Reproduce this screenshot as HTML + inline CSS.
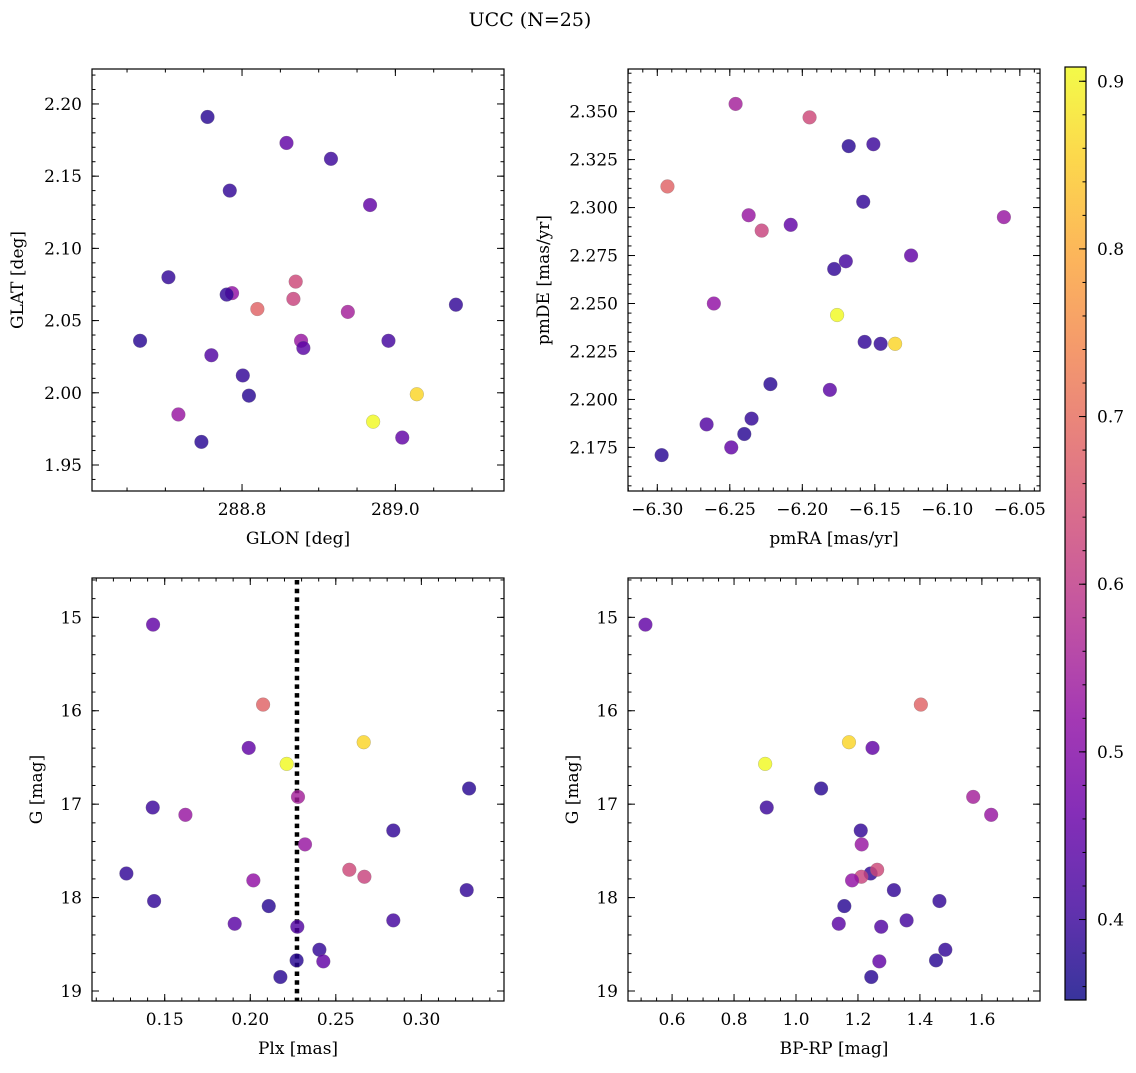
<!DOCTYPE html>
<html><head><meta charset="utf-8"><style>
html,body{margin:0;padding:0;background:#fff;}
svg text{font-family:"DejaVu Serif","Liberation Serif",serif;fill:#000;}
</style></head><body>
<svg id="fig" width="1136" height="1068" viewBox="0 0 1136 1068" xmlns="http://www.w3.org/2000/svg">
<text x="530" y="26" font-size="19" text-anchor="middle">UCC (N=25)</text>
</svg>
<script>
// Star data (A..Y)
const glon = [288.858,288.820,288.967,289.028,288.971,288.755,288.938,288.916,288.717,288.784,288.877,288.704,288.870,288.867,288.787,288.780,289.079,288.667,288.880,288.991,288.760,288.801,288.809,289.009,288.747];
const glat = [2.173,2.058,2.130,1.999,1.980,2.191,2.056,2.162,1.985,2.140,2.036,2.080,2.077,2.065,2.069,2.068,2.061,2.036,2.031,2.036,2.026,2.012,1.998,1.969,1.966];
const pmra = [-6.208,-6.293,-6.125,-6.136,-6.176,-6.168,-6.246,-6.151,-6.061,-6.158,-6.237,-6.178,-6.195,-6.228,-6.261,-6.157,-6.146,-6.222,-6.181,-6.170,-6.266,-6.235,-6.240,-6.249,-6.297];
const pmde = [2.291,2.311,2.275,2.229,2.244,2.332,2.354,2.333,2.295,2.303,2.296,2.268,2.347,2.288,2.250,2.230,2.229,2.208,2.205,2.272,2.187,2.190,2.182,2.175,2.171];
const plx = [0.1432,0.2075,0.1991,0.2663,0.2213,0.3279,0.2279,0.1430,0.1621,0.2836,0.2320,0.1276,0.2579,0.2667,0.2018,0.3265,0.1438,0.2108,0.1909,0.2836,0.2275,0.2404,0.2271,0.2427,0.2176];
const gmag = [15.078,15.934,16.398,16.337,16.569,16.832,16.922,17.036,17.114,17.282,17.431,17.742,17.702,17.777,17.816,17.920,18.037,18.091,18.280,18.244,18.312,18.558,18.672,18.683,18.850];
const bprp = [0.514,1.403,1.247,1.171,0.9005,1.081,1.572,0.9055,1.630,1.209,1.212,1.241,1.262,1.211,1.181,1.316,1.463,1.156,1.138,1.357,1.275,1.482,1.452,1.269,1.243];
const prob = [0.45,0.68,0.45,0.86,0.91,0.38,0.55,0.40,0.53,0.39,0.53,0.39,0.63,0.62,0.52,0.39,0.39,0.38,0.44,0.41,0.43,0.39,0.38,0.45,0.38];
const plxMedian = 0.2273;
const cbTicks = [0.4,0.5,0.6,0.7,0.8,0.9];
const VMIN = 0.352, VMAX = 0.9085;

const NS = "http://www.w3.org/2000/svg";
const svg = document.getElementById('fig');
function mk(tag, attrs, parent){const e=document.createElementNS(NS,tag);for(const k in attrs)e.setAttribute(k,attrs[k]);(parent||svg).appendChild(e);return e;}

const stops=[[13,8,135],[65,4,157],[106,0,168],[143,13,164],[177,42,144],[204,71,120],[225,100,98],[242,132,75],[252,166,54],[252,206,37],[240,249,33]];
function plasma(t){t=Math.max(0,Math.min(1,t));const f=t*10,i=Math.min(9,Math.floor(f)),r=f-i;const a=stops[i],b=stops[i+1];return 'rgb('+a.map((v,k)=>Math.round(v+(b[k]-v)*r)).join(',')+')';}

function fmt(v,d){const s=Math.abs(v).toFixed(d);return (v<-1e-9?'\u2212':'')+s;}

function panel(o){
  const g=mk('g',{});
  
  
  const sx=v=>o.x0+(v-o.xmin)/(o.xmax-o.xmin)*(o.x1-o.x0);
  const sy=v=>o.inv? o.y0+(v-o.ymin)/(o.ymax-o.ymin)*(o.y1-o.y0) : o.y1-(v-o.ymin)/(o.ymax-o.ymin)*(o.y1-o.y0);
  const tg=mk('g',{stroke:'#000','stroke-width':1},g);
  for(let v=o.xminor0; v<=o.xmax+1e-9; v+=o.xminorStep){const x=sx(v);if(x<o.x0||x>o.x1)continue;mk('line',{x1:x,x2:x,y1:o.y1,y2:o.y1-3.5},tg);mk('line',{x1:x,x2:x,y1:o.y0,y2:o.y0+3.5},tg);}
  for(let v=o.yminor0; v<=Math.max(o.ymax,o.ymin)+1e-9; v+=o.yminorStep){const y=sy(v);if(y<o.y0||y>o.y1)continue;mk('line',{x1:o.x0,x2:o.x0+3.5,y1:y,y2:y},tg);mk('line',{x1:o.x1,x2:o.x1-3.5,y1:y,y2:y},tg);}
  o.xticks.forEach(v=>{const x=sx(v);mk('line',{x1:x,x2:x,y1:o.y1,y2:o.y1-7},tg);mk('line',{x1:x,x2:x,y1:o.y0,y2:o.y0+7},tg);
    const t=mk('text',{x:x,y:o.y1+24,'font-size':17,'text-anchor':'middle'},g);t.textContent=fmt(v,o.xdec);
    
    });
  o.yticks.forEach(v=>{const y=sy(v);mk('line',{x1:o.x0,x2:o.x0+7,y1:y,y2:y},tg);mk('line',{x1:o.x1,x2:o.x1-7,y1:y,y2:y},tg);
    const t=mk('text',{x:o.x0-10,y:y+6,'font-size':17,'text-anchor':'end'},g);t.textContent=fmt(v,o.ydec);
    
    });
  if(o.vline!==undefined){const x=sx(o.vline);const l=mk('line',{x1:x,x2:x,y1:o.y0+2,y2:o.y1,stroke:'#000','stroke-width':4.5,'stroke-dasharray':'4.5 4.2'},g);
    
    }
  for(let i=0;i<o.xs.length;i++){
    const c=mk('circle',{cx:sx(o.xs[i]),cy:sy(o.ys[i]),r:6.9,fill:plasma((prob[i]-VMIN)/(VMAX-VMIN)),'fill-opacity':0.82,stroke:'#777','stroke-width':0.4,'stroke-opacity':0.6},g);
    
    
  }
  const fr=mk('rect',{x:o.x0,y:o.y0,width:o.x1-o.x0,height:o.y1-o.y0,fill:'none',stroke:'#000','stroke-width':1.2},g);
  
  
  const xl=mk('text',{x:(o.x0+o.x1)/2,y:o.y1+53,'font-size':17,'text-anchor':'middle'},g);xl.textContent=o.xlabel;
  
  
  const yl=mk('text',{x:0,y:0,'font-size':17,'text-anchor':'middle',transform:'translate('+o.ylx+','+((o.y0+o.y1)/2)+') rotate(-90)'},g);yl.textContent=o.ylabel;
  
  
}

panel({name:'glon-glat-panel',x0:92,x1:504,y0:69,y1:491,xmin:288.6043,xmax:289.1417,ymin:1.932,ymax:2.2242,
  xticks:[288.8,289.0],xdec:1,xminor0:288.65,xminorStep:0.05,yticks:[1.95,2.00,2.05,2.10,2.15,2.20],ydec:2,yminor0:1.94,yminorStep:0.01,
  xs:glon,ys:glat,xlabel:'GLON [deg]',ylabel:'GLAT [deg]',ylx:23});
panel({name:'pm-panel',x0:628,x1:1040,y0:69,y1:491,xmin:-6.3202,xmax:-6.0361,ymin:2.1523,ymax:2.3722,
  xticks:[-6.30,-6.25,-6.20,-6.15,-6.10,-6.05],xdec:2,xminor0:-6.32,xminorStep:0.01,yticks:[2.175,2.2,2.225,2.25,2.275,2.3,2.325,2.35],ydec:3,yminor0:2.155,yminorStep:0.005,
  xs:pmra,ys:pmde,xlabel:'pmRA [mas/yr]',ylabel:'pmDE [mas/yr]',ylx:549});
panel({name:'plx-g-panel',x0:92,x1:504,y0:578,y1:1001,xmin:0.1075,xmax:0.3483,ymin:14.579,ymax:19.107,inv:true,
  xticks:[0.15,0.20,0.25,0.30],xdec:2,xminor0:0.11,xminorStep:0.01,yticks:[15,16,17,18,19],ydec:0,yminor0:14.6,yminorStep:0.2,
  xs:plx,ys:gmag,xlabel:'Plx [mas]',ylabel:'G [mag]',ylx:42,vline:plxMedian});
panel({name:'cmd-panel',x0:628,x1:1040,y0:578,y1:1001,xmin:0.4577,xmax:1.7876,ymin:14.579,ymax:19.107,inv:true,
  xticks:[0.6,0.8,1.0,1.2,1.4,1.6],xdec:1,xminor0:0.5,xminorStep:0.05,yticks:[15,16,17,18,19],ydec:0,yminor0:14.6,yminorStep:0.2,
  xs:bprp,ys:gmag,xlabel:'BP-RP [mag]',ylabel:'G [mag]',ylx:578});

const cb=mk('g',{});


const defs=mk('defs',{},cb);
const lg=mk('linearGradient',{id:'cbg',x1:0,y1:1,x2:0,y2:0},defs);
for(let k=0;k<=20;k++){const t=k/20;const v=VMIN+t*(VMAX-VMIN);mk('stop',{offset:t,'stop-color':plasma((v-VMIN)/(VMAX-VMIN)),'stop-opacity':0.82},lg);}
const CB={x0:1065,x1:1086,y0:67,y1:1000};
const cy=v=>CB.y1-(v-VMIN)/(VMAX-VMIN)*(CB.y1-CB.y0);
mk('rect',{x:CB.x0,y:CB.y0,width:CB.x1-CB.x0,height:CB.y1-CB.y0,fill:'url(#cbg)',stroke:'#000','stroke-width':1.2},cb);
for(let v=0.36;v<=VMAX;v+=0.02){const y=cy(v);mk('line',{x1:CB.x1,x2:CB.x1-3.5,y1:y,y2:y,stroke:'#000','stroke-width':1},cb);}
cbTicks.forEach(v=>{const y=cy(v);mk('line',{x1:CB.x1,x2:CB.x1-7,y1:y,y2:y,stroke:'#000','stroke-width':1},cb);
  const t=mk('text',{x:CB.x1+11,y:y+6,'font-size':17},cb);t.textContent=v.toFixed(1);
  
  });
</script>
</body></html>
